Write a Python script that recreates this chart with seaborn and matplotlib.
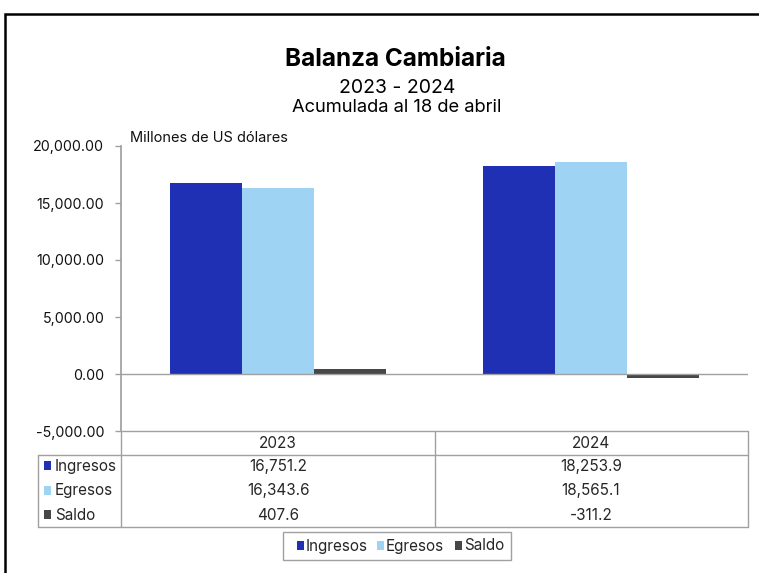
import matplotlib
matplotlib.use("Agg")
import matplotlib.pyplot as plt
from matplotlib.lines import Line2D
from matplotlib.patches import Rectangle
from matplotlib.ticker import FuncFormatter
import seaborn as sns
import pandas as pd

# Data
years = ["2023", "2024"]
series = ["Ingresos", "Egresos", "Saldo"]
ingresos = [16751.2, 18253.9]
egresos = [16343.6, 18565.1]
saldo = [407.6, -311.2]
colors = ["#1f30b4", "#9fd3f3", "#474747"]

W, H = 759, 573
sns.set_theme(style="white")
plt.rcParams["font.family"] = ["Inter", "DejaVu Sans"]

rows = []
for s, vals in zip(series, [ingresos, egresos, saldo]):
    for y, v in zip(years, vals):
        rows.append({"year": y, "serie": s, "valor": v})
df = pd.DataFrame(rows)


def fx(x):
    return x / W


def fy(y):
    return 1 - y / H


fig = plt.figure(figsize=(W / 100, H / 100), dpi=100)
ax = fig.add_axes([fx(121), fy(431), fx(748) - fx(121), fy(146) - fy(431)])

sns.barplot(data=df, x="year", y="valor", hue="serie", hue_order=series,
            palette=colors, width=0.69, saturation=1, linewidth=0,
            ax=ax, legend=False)
ax.set_xlim(-0.5, 1.5)
ax.set_ylim(-5000, 20000)
ax.set_yticks(range(-5000, 20001, 5000))
ax.yaxis.set_major_formatter(FuncFormatter(lambda v, p: f"{v:,.2f}"))
ax.tick_params(axis="y", left=True, length=4, width=1, color="#a0a0a0",
               labelsize=10.3, labelcolor="#111111", pad=8)
ax.set_xticks([])
ax.set_xlabel("")
ax.set_ylabel("")
for sp in ["top", "right", "bottom"]:
    ax.spines[sp].set_visible(False)
ax.spines["left"].set_color("#a0a0a0")
ax.axhline(0, color="#a0a0a0", lw=1)

# titles
fig.text(fx(395), fy(60), "Balanza Cambiaria", ha="center", va="center",
         fontsize=17.5, fontweight="bold", color="black")
fig.text(fx(397), fy(88), "2023 - 2024", ha="center", va="center",
         fontsize=14, color="black")
fig.text(fx(397), fy(108), "Acumulada al 18 de abril", ha="center", va="center",
         fontsize=13.2, color="black")
fig.text(fx(130), fy(138), "Millones de US dólares", ha="left", va="center",
         fontsize=10.5, color="#111111")

# data table
gc = "#a0a0a0"
segs = [
    ((121, 431), (748, 431)),
    ((38, 455), (748, 455)),
    ((38, 527), (748, 527)),
    ((38, 455), (38, 527)),
    ((121, 431), (121, 527)),
    ((435, 431), (435, 527)),
    ((748, 431), (748, 527)),
]
for (x0, y0), (x1, y1) in segs:
    fig.add_artist(Line2D([fx(x0), fx(x1)], [fy(y0), fy(y1)], color=gc, lw=1))

col_x = [278, 591]
for cx, yr in zip(col_x, years):
    fig.text(fx(cx), fy(443), yr, ha="center", va="center", fontsize=11)

row_y = [466, 491, 515]
for ry, s, c, vals in zip(row_y, series, colors, [ingresos, egresos, saldo]):
    fig.add_artist(Rectangle((fx(44), fy(ry + 4)), fx(7), fy(0) - fy(9),
                             facecolor=c, edgecolor="none"))
    fig.text(fx(55), fy(ry), s, ha="left", va="center", fontsize=11)
    for cx, v in zip(col_x, vals):
        fig.text(fx(cx), fy(ry), f"{v:,.1f}", ha="center", va="center",
                 fontsize=11)

# legend
fig.add_artist(Rectangle((fx(283), fy(560)), fx(511) - fx(283), fy(532) - fy(560),
                         facecolor="none", edgecolor=gc, lw=1))
leg_x = [297, 377, 455]
for lx, s, c in zip(leg_x, series, colors):
    fig.add_artist(Rectangle((fx(lx), fy(550)), fx(7), fy(0) - fy(9),
                             facecolor=c, edgecolor="none"))
    fig.text(fx(lx + 9), fy(546), s, ha="left", va="center", fontsize=11)

# frame
fig.add_artist(Rectangle((fx(5), fy(700)), fx(900), fy(14) - fy(700),
                         facecolor="none", edgecolor="black", lw=1.8,
                         transform=fig.transFigure, clip_on=False))

fig.savefig("out.png", dpi=100)
